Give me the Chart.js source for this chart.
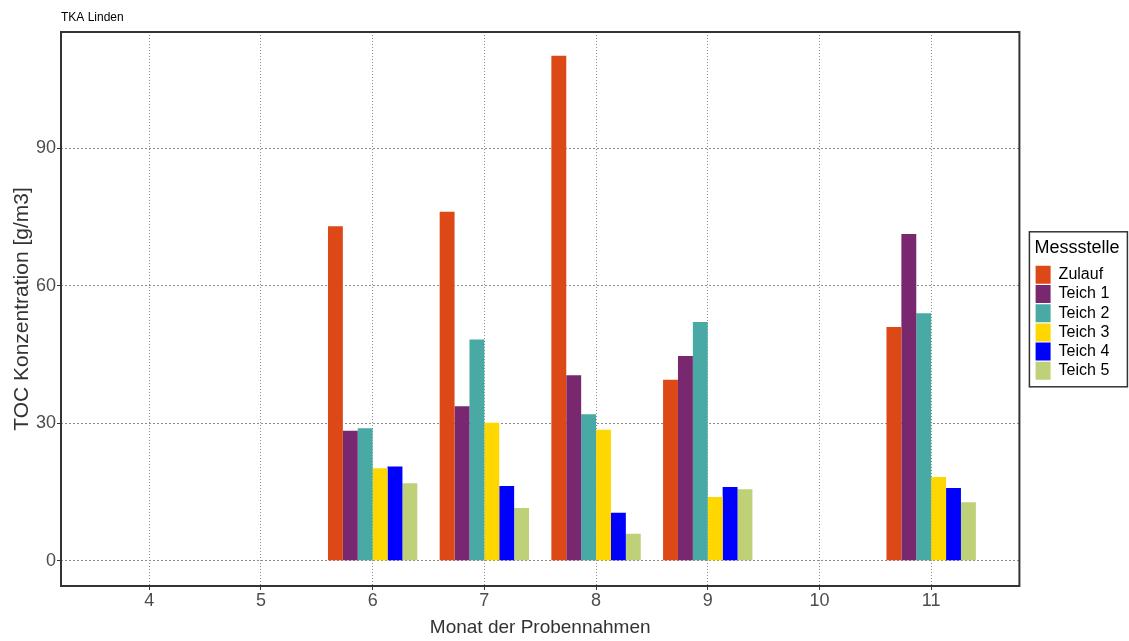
<!DOCTYPE html>
<html lang="de">

<head>
    <meta charset="UTF-8">
    <title>TKA Linden</title>
    <script src="https://cdn.jsdelivr.net/npm/chart.js"></script>
    <style>
        body {
            margin: 0;
            background: #ffffff;
        }
    </style>
</head>

<body>
    <canvas id="tocChart" width="1129" height="641"></canvas>

    <script>
        // Monate der Probennahmen (x-Achse)
        const months = [4, 5, 6, 7, 8, 9, 10, 11];
        const xTicks = [4, 5, 6, 7, 8, 9, 10, 11];
        const yTicks = [0, 30, 60, 90];

        // TOC Konzentration [g/m3] je Messstelle, null = keine Probe
        const zulauf = [null, null, 73.0, 76.2, 110.2, 39.5, null, 51.0];
        const teich1 = [null, null, 28.4, 33.7, 40.5, 44.7, null, 71.3];
        const teich2 = [null, null, 28.9, 48.3, 32.0, 52.1, null, 54.0];
        const teich3 = [null, null, 20.2, 30.1, 28.6, 13.9, null, 18.3];
        const teich4 = [null, null, 20.6, 16.3, 10.5, 16.1, null, 15.9];
        const teich5 = [null, null, 16.9, 11.5, 5.9, 15.6, null, 12.8];

        const stations = ['Zulauf', 'Teich 1', 'Teich 2', 'Teich 3', 'Teich 4', 'Teich 5'];
        const colors = ['#DD4916', '#79286F', '#49AAA5', '#FFD700', '#0000FF', '#BED078'];
        const series = [zulauf, teich1, teich2, teich3, teich4, teich5];

        const FONT = "'Liberation Sans', Arial, Helvetica, sans-serif";

        function toPoints(values) {
            return months
                .map((m, i) => ({ x: m, y: values[i] }))
                .filter(p => p.y !== null);
        }

        // rahmen um plot und legende
        const framePlugin = {
            id: 'frame',
            afterDraw(chart) {
                const ctx = chart.ctx;
                const a = chart.chartArea;
                ctx.save();
                ctx.strokeStyle = '#333333';
                ctx.lineWidth = 2;
                ctx.strokeRect(a.left, a.top, a.right - a.left, a.bottom - a.top);

                const lg = chart.legend;
                if (lg && lg.legendHitBoxes && lg.legendHitBoxes.length) {
                    const boxes = lg.legendHitBoxes;
                    const top = boxes[0].top - 34;
                    const bottom = boxes[boxes.length - 1].top + 25;
                    const left = lg.left - 5;
                    ctx.lineWidth = 1.5;
                    ctx.strokeRect(left, top, 98, bottom - top);
                }
                ctx.restore();
            }
        };

        const gridStyle = {
            color: '#8c8c8c',
            lineWidth: 1,
            tickLength: 4,
            tickColor: '#333333',
            tickBorderDash: [],
            tickWidth: 1
        };

        const ctx = document.getElementById('tocChart').getContext('2d');
        new Chart(ctx, {
            type: 'bar',
            data: {
                datasets: series.map((values, i) => ({
                    label: stations[i],
                    data: toPoints(values),
                    backgroundColor: colors[i],
                    borderWidth: 0
                }))
            },
            options: {
                responsive: false,
                animation: false,
                devicePixelRatio: 1,
                categoryPercentage: 0.8,
                barPercentage: 1.0,
                layout: {
                    padding: { left: 0, right: 9.7, top: 0, bottom: 0 }
                },
                plugins: {
                    title: {
                        display: true,
                        text: 'TKA Linden',
                        align: 'start',
                        fullSize: false,
                        color: '#000000',
                        font: { family: FONT, size: 12, weight: 'normal' },
                        padding: { top: 10.8, bottom: 6.8 }
                    },
                    legend: {
                        position: 'right',
                        align: 'center',
                        fullSize: false,
                        title: {
                            display: true,
                            text: 'Messstelle',
                            position: 'start',
                            color: '#000000',
                            font: { family: FONT, size: 18 },
                            padding: { top: 2, bottom: 4 }
                        },
                        labels: {
                            boxWidth: 15,
                            boxHeight: 18,
                            padding: 1.2,
                            color: '#000000',
                            font: { family: FONT, size: 16 }
                        }
                    },
                    tooltip: { enabled: false }
                },
                scales: {
                    x: {
                        type: 'linear',
                        min: 3.21,
                        max: 11.79,
                        offset: false,
                        afterFit: s => { s.height = 55; },
                        afterBuildTicks: s => { s.ticks = xTicks.map(v => ({ value: v })); },
                        ticks: {
                            stepSize: 1,
                            includeBounds: false,
                            color: '#4D4D4D',
                            padding: 0,
                            font: { family: FONT, size: 18 }
                        },
                        grid: Object.assign({ offset: false }, gridStyle),
                        border: { display: false, dash: [1, 2] },
                        title: {
                            display: true,
                            text: 'Monat der Probennahmen',
                            color: '#333333',
                            font: { family: FONT, size: 19 },
                            padding: { top: 0, bottom: 1.5 }
                        }
                    },
                    y: {
                        type: 'linear',
                        min: -5.5,
                        max: 115.4,
                        afterFit: s => { s.width = 61; },
                        afterBuildTicks: s => { s.ticks = yTicks.map(v => ({ value: v })); },
                        ticks: {
                            stepSize: 30,
                            includeBounds: false,
                            color: '#4D4D4D',
                            padding: 1,
                            font: { family: FONT, size: 18 }
                        },
                        grid: Object.assign({}, gridStyle),
                        border: { display: false, dash: [2, 2] },
                        title: {
                            display: true,
                            text: 'TOC Konzentration [g/m3]',
                            color: '#333333',
                            font: { family: FONT, size: 21 },
                            padding: { top: 10, bottom: 0 }
                        }
                    },
                    gap: {
                        type: 'linear',
                        position: 'right',
                        display: true,
                        afterFit: s => { s.width = 15; },
                        ticks: { display: false },
                        grid: { display: false, drawTicks: false },
                        border: { display: false }
                    }
                }
            },
            plugins: [framePlugin]
        });
    </script>
</body>

</html>
